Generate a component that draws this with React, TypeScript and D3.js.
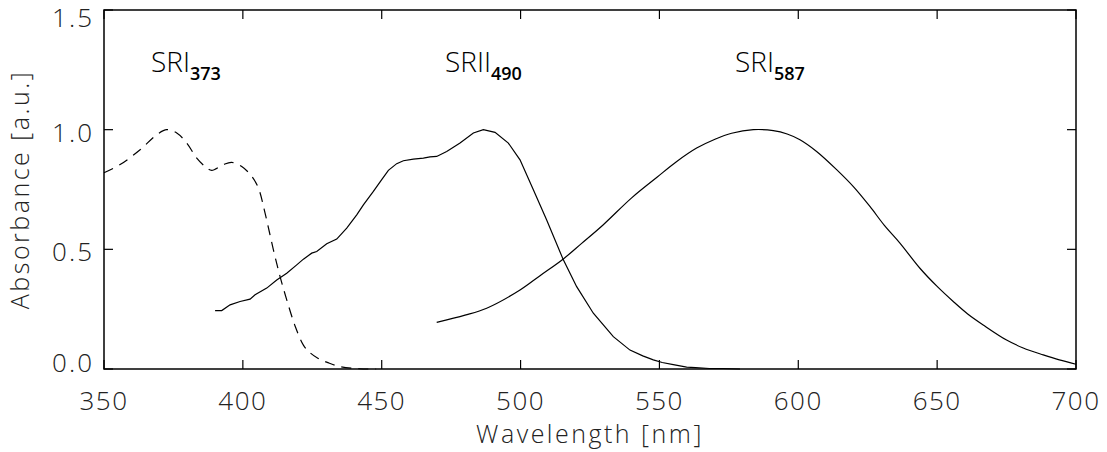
import React from "react";
import * as d3 from "d3";

const xTicks = [350, 400, 450, 500, 550, 600, 650, 700];
const yTicks = [0, 0.5, 1.0, 1.5];

const sri373Wl = [350, 355.8, 363, 369, 372.6, 376.2, 379.8, 383.4, 387, 388.8, 393, 396, 399.6, 403.2, 405.6, 408, 411, 413.4, 415.8, 418.8, 421.8, 424, 427, 431, 435, 442, 448];
const sri373Abs = [0.82, 0.854, 0.916, 0.979, 1.0, 0.986, 0.944, 0.881, 0.84, 0.83, 0.854, 0.863, 0.846, 0.805, 0.756, 0.651, 0.498, 0.386, 0.289, 0.18, 0.1, 0.07, 0.045, 0.025, 0.01, 0.001, 0];

const srii490Wl = [390, 392.4, 395.4, 399, 402.6, 404.4, 408.6, 412.2, 415.8, 419.4, 421.8, 424.8, 426.6, 430.2, 433.8, 437.4, 441, 443.4, 447, 450, 452.4, 455.4, 457.8, 461.4, 465, 467.4, 469.8, 473.4, 478.2, 483, 486.6, 490.8, 495.6, 499.8, 504.6, 509.4, 515.4, 520.2, 526.2, 533.4, 539.4, 544, 547.8, 551, 555, 559.8, 563, 568, 573, 579];
const srii490Abs = [0.244, 0.244, 0.268, 0.282, 0.292, 0.31, 0.338, 0.372, 0.4, 0.435, 0.459, 0.484, 0.491, 0.523, 0.543, 0.589, 0.644, 0.686, 0.742, 0.791, 0.83, 0.858, 0.87, 0.877, 0.881, 0.886, 0.888, 0.909, 0.944, 0.986, 1.0, 0.989, 0.944, 0.874, 0.749, 0.623, 0.456, 0.344, 0.233, 0.135, 0.079, 0.055, 0.038, 0.027, 0.018, 0.008, 0.006, 0.002, 0.002, 0];

const sri587Wl = [469.8, 480, 487.8, 499.8, 507, 515.4, 522, 529.8, 540, 549, 556, 563.4, 570, 576, 583.8, 591, 596, 600.6, 606.6, 613.8, 620, 625.8, 631, 636.6, 643.8, 650, 655.8, 661, 666.6, 675, 681, 688.2, 694, 700];
const sri587Abs = [0.195, 0.225, 0.254, 0.33, 0.39, 0.46, 0.525, 0.603, 0.715, 0.8, 0.865, 0.923, 0.96, 0.985, 1.0, 0.996, 0.982, 0.958, 0.909, 0.833, 0.76, 0.679, 0.6, 0.526, 0.421, 0.345, 0.282, 0.23, 0.184, 0.121, 0.088, 0.059, 0.038, 0.02];

const labels = [
  { main: "SRI", sub: "373", x: 151, y: 72 },
  { main: "SRII", sub: "490", x: 445, y: 72 },
  { main: "SRI", sub: "587", x: 735, y: 72 },
];

const W = 1107, H = 452;
const L = 104, R = 1076, T = 10, B = 369;
const FONT = "'Open Sans', 'DejaVu Sans', sans-serif";

export default function App() {
  const x = d3.scaleLinear().domain([350, 700]).range([L, R]);
  const y = d3.scaleLinear().domain([0, 1.5]).range([B, T]);
  const zip = (a: number[], b: number[]) => a.map((v, i) => [v, b[i]] as [number, number]);
  const smooth = d3.line<[number, number]>().x(d => x(d[0])).y(d => y(d[1])).curve(d3.curveCatmullRom.alpha(0.5));
  const rough = d3.line<[number, number]>().x(d => x(d[0])).y(d => y(d[1])).curve(d3.curveLinear);
  const tk = 9;
  return (
    <svg width={W} height={H} style={{ position: "absolute", left: 0, top: 0, background: "#fff" }}>
      <rect x={L} y={T} width={R - L} height={B - T} fill="none" stroke="#000" strokeWidth={1.5} />
      {xTicks.map(t => (
        <g key={"x" + t}>
          <line x1={x(t)} x2={x(t)} y1={B} y2={B - tk} stroke="#000" strokeWidth={1.2} />
          <line x1={x(t)} x2={x(t)} y1={T} y2={T + tk} stroke="#000" strokeWidth={1.2} />
          <text x={x(t)} y={410} textAnchor="middle" fontFamily={FONT} fontWeight={300} fontSize={26} letterSpacing={1.5} fill="#222">{t}</text>
        </g>
      ))}
      {yTicks.map(t => (
        <g key={"y" + t}>
          <line x1={L} x2={L + tk} y1={y(t)} y2={y(t)} stroke="#000" strokeWidth={1.2} />
          <line x1={R} x2={R - tk} y1={y(t)} y2={y(t)} stroke="#000" strokeWidth={1.2} />
          <text x={94} y={Math.min(Math.max(y(t) + 12, 27), 372)} textAnchor="end" fontFamily={FONT} fontWeight={300} fontSize={26} letterSpacing={2} fill="#222">{t.toFixed(1)}</text>
        </g>
      ))}
      <text x={(L + R) / 2} y={443} textAnchor="middle" fontFamily={FONT} fontWeight={300} fontSize={25} letterSpacing={2.5} fill="#222">Wavelength [nm]</text>
      <text transform={`translate(29, ${(T + B) / 2}) rotate(-90)`} textAnchor="middle" fontFamily={FONT} fontWeight={300} fontSize={25} letterSpacing={2.5} fill="#222">Absorbance [a.u.]</text>
      <path d={smooth(zip(sri373Wl, sri373Abs)) || ""} fill="none" stroke="#000" strokeWidth={1.2} strokeDasharray="10,7" />
      <path d={rough(zip(srii490Wl, srii490Abs)) || ""} fill="none" stroke="#000" strokeWidth={1.2} />
      <path d={smooth(zip(sri587Wl, sri587Abs)) || ""} fill="none" stroke="#000" strokeWidth={1.2} />
      {labels.map(l => (
        <text key={l.main + l.sub} x={l.x} y={l.y} fontFamily={FONT} fontSize={28} fill="#000">
          <tspan fontWeight={300}>{l.main}</tspan>
          <tspan fontSize={18} fontWeight={600} dy={8}>{l.sub}</tspan>
        </text>
      ))}
    </svg>
  );
}
